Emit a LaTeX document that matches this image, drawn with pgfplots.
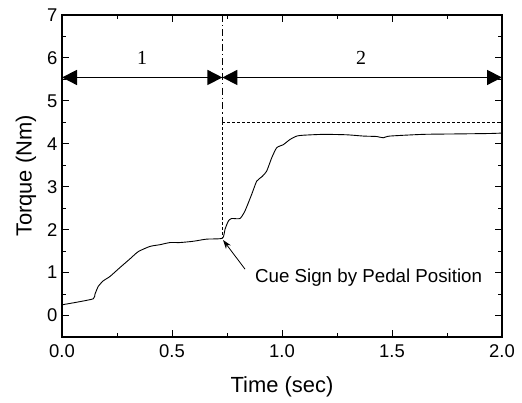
\documentclass[border=0pt]{standalone}
\usepackage{pgfplots}
\pgfplotsset{compat=1.18}
\usepackage{fontspec}
\setmainfont{Liberation Sans}
\newfontfamily\seriffont{Liberation Serif}
\usetikzlibrary{arrows.meta}
\begin{document}
\begin{tikzpicture}
\begin{axis}[
  scale only axis, width=440bp, height=322bp,
  xmin=0, xmax=2, ymin=-0.5, ymax=7,
  xtick={0,0.5,1,1.5,2}, ytick={0,1,2,3,4,5,6,7},
  minor x tick num=1, minor y tick num=1,
  tick align=inside,
  major tick length=7bp, minor tick length=4bp,
  axis line style={line width=1.3bp},
  every tick/.style={line width=1bp, black},
  xticklabel style={yshift=-4bp, /pgf/number format/fixed, /pgf/number format/fixed zerofill, /pgf/number format/precision=1},
  yticklabel style={xshift=-1bp},
  /pgf/number format/assume math mode=true,
  ticklabel style={font=\fontsize{18.5}{20}\selectfont},
  xlabel={Time (sec)}, ylabel={Torque (Nm)},
  label style={font=\fontsize{22}{24}\selectfont},
  xlabel style={at={(axis description cs:0.5,-0.155)}, anchor=center},
  ylabel style={at={(axis description cs:-0.082,0.5)}, anchor=center},
  clip=false,
]
\addplot[black, line width=0.9bp, smooth, tension=0.35] coordinates {
(0,0.25) (0.067,0.31) (0.142,0.39) (0.15,0.50) (0.165,0.68) (0.188,0.81)
(0.218,0.91) (0.264,1.12) (0.309,1.32) (0.347,1.49) (0.40,1.61) (0.445,1.65)
(0.491,1.70) (0.536,1.70) (0.597,1.73) (0.658,1.78) (0.729,1.80) (0.741,2.01)
(0.756,2.20) (0.771,2.26) (0.809,2.26) (0.832,2.44) (0.862,2.82) (0.885,3.13)
(0.908,3.23) (0.930,3.36) (0.953,3.67) (0.976,3.91) (1.006,3.98) (1.036,4.10)
(1.067,4.18) (1.097,4.20) (1.188,4.22) (1.294,4.21) (1.37,4.18) (1.43,4.17)
(1.46,4.14) (1.49,4.18) (1.642,4.22) (1.794,4.23) (1.945,4.24) (2.0,4.25)
};
% cue line upper (dash-dot)
\addplot[black, line width=1.5bp, dash pattern=on 7bp off 3bp on 1.5bp off 3bp] coordinates {(0.729,7) (0.729,4.5)};
% cue line lower (dashed)
\addplot[black, line width=0.7bp, dash pattern=on 3bp off 2bp] coordinates {(0.729,4.5) (0.729,1.80)};
% horizontal reference
\addplot[black, line width=0.7bp, dash pattern=on 3bp off 2bp] coordinates {(0.729,4.5) (2.0,4.5)};
% region arrows
\draw[line width=1.6bp, {Triangle[length=15bp,width=15bp]}-{Triangle[length=15bp,width=15bp]}] (axis cs:0,5.545) -- (axis cs:0.729,5.545);
\draw[line width=1.6bp, {Triangle[length=15bp,width=15bp]}-{Triangle[length=15bp,width=15bp]}] (axis cs:0.729,5.545) -- (axis cs:2.0,5.545);
\node[font=\seriffont\fontsize{20}{22}\selectfont] at (axis cs:0.364,6.0) {1};
\node[font=\seriffont\fontsize{20}{22}\selectfont] at (axis cs:1.359,6.0) {2};
% annotation
\draw[line width=0.8bp, -{Stealth[length=9bp,width=6bp]}] (axis cs:0.832,1.08) -- (axis cs:0.732,1.76);
\node[anchor=west, inner sep=0pt, font=\fontsize{18.8}{20}\selectfont] at (axis cs:0.877,0.875) {Cue Sign by Pedal Position};
\coordinate (sw) at (rel axis cs:0,0);
\coordinate (ne) at (rel axis cs:1,1);
\end{axis}
\path (sw) ++(-62bp,-66bp) coordinate (bbl);
\path (ne) ++(20bp,15bp) coordinate (bbr);
\path (bbl) rectangle (bbr);
\end{tikzpicture}
\end{document}
